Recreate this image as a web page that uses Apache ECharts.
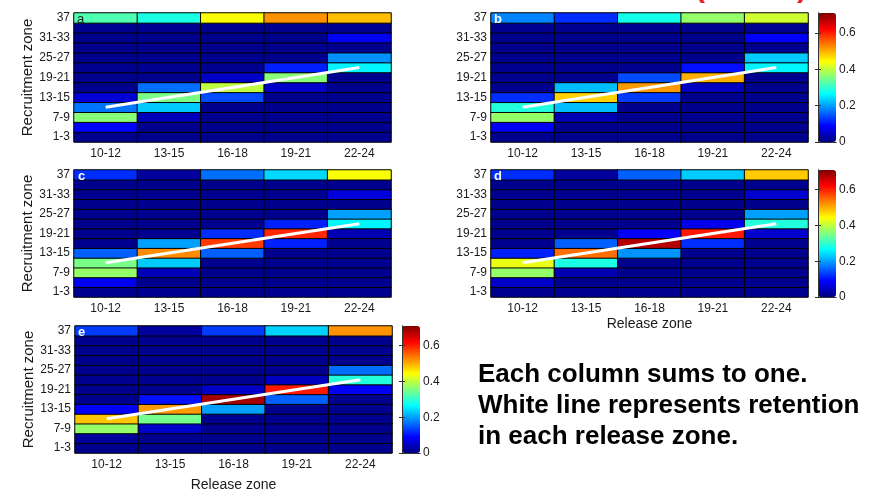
<!DOCTYPE html>
<html><head><meta charset="utf-8">
<script src="https://cdn.jsdelivr.net/npm/echarts/dist/echarts.min.js"></script>
<style>html,body{margin:0;padding:0;background:#fff}#c{width:878px;height:493px}</style>
</head><body><div id="c"></div>
<script>
// Categories
const releaseZones = ['10-12', '13-15', '16-18', '19-21', '22-24'];
const recruitZones = ['1-3', '4-6', '7-9', '10-12', '13-15', '16-18', '19-21', '22-24', '25-27', '28-30', '31-33', '34-36', '37'];
const colorMax = 0.71;
const colorbarInterval = 0.2;
const panelLetters = ['a', 'b', 'c', 'd', 'e'];
const noteLines = ['Each column sums to one.', 'White line represents retention', 'in each release zone.'];

// Values: one array per release zone, recruitment zones bottom (1-3) to top (37)
const panelA = [
  [0.01, 0.09, 0.36, 0.17, 0.06, 0.01, 0.01, 0.01, 0.01, 0.01, 0.01, 0.01, 0.32],
  [0.01, 0.01, 0.04, 0.23, 0.35, 0.165, 0.01, 0.01, 0.01, 0.01, 0.01, 0.01, 0.285],
  [0.01, 0.01, 0.01, 0.01, 0.14, 0.40, 0.05, 0.01, 0.01, 0.01, 0.01, 0.01, 0.44],
  [0.01, 0.01, 0.01, 0.01, 0.01, 0.05, 0.36, 0.11, 0.01, 0.01, 0.01, 0.01, 0.52],
  [0.01, 0.01, 0.01, 0.01, 0.01, 0.01, 0.01, 0.26, 0.19, 0.01, 0.08, 0.01, 0.49]
];
const panelB = [
  [0.01, 0.08, 0.37, 0.29, 0.12, 0.01, 0.01, 0.01, 0.01, 0.01, 0.01, 0.01, 0.18],
  [0.01, 0.01, 0.035, 0.22, 0.475, 0.22, 0.01, 0.01, 0.01, 0.01, 0.01, 0.01, 0.12],
  [0.01, 0.01, 0.01, 0.01, 0.13, 0.515, 0.14, 0.01, 0.01, 0.01, 0.01, 0.01, 0.28],
  [0.01, 0.01, 0.01, 0.01, 0.01, 0.045, 0.50, 0.10, 0.01, 0.01, 0.01, 0.01, 0.37],
  [0.01, 0.01, 0.01, 0.01, 0.01, 0.01, 0.01, 0.26, 0.23, 0.01, 0.085, 0.01, 0.41]
];
const panelC = [
  [0.01, 0.08, 0.37, 0.35, 0.155, 0.01, 0.01, 0.01, 0.01, 0.01, 0.01, 0.01, 0.12],
  [0.01, 0.01, 0.04, 0.23, 0.525, 0.20, 0.01, 0.01, 0.01, 0.01, 0.01, 0.01, 0.02],
  [0.01, 0.01, 0.01, 0.01, 0.155, 0.58, 0.12, 0.01, 0.01, 0.01, 0.01, 0.01, 0.165],
  [0.01, 0.01, 0.01, 0.01, 0.01, 0.11, 0.595, 0.11, 0.01, 0.01, 0.01, 0.01, 0.24],
  [0.01, 0.01, 0.01, 0.01, 0.01, 0.01, 0.035, 0.26, 0.20, 0.01, 0.065, 0.01, 0.44]
];
const panelD = [
  [0.01, 0.05, 0.37, 0.43, 0.11, 0.01, 0.01, 0.01, 0.01, 0.01, 0.01, 0.01, 0.12],
  [0.01, 0.01, 0.035, 0.285, 0.545, 0.155, 0.01, 0.01, 0.01, 0.01, 0.01, 0.01, 0.02],
  [0.01, 0.01, 0.01, 0.01, 0.19, 0.675, 0.085, 0.01, 0.01, 0.01, 0.01, 0.01, 0.155],
  [0.01, 0.01, 0.01, 0.01, 0.01, 0.12, 0.605, 0.075, 0.01, 0.01, 0.01, 0.01, 0.23],
  [0.01, 0.01, 0.01, 0.01, 0.01, 0.01, 0.055, 0.29, 0.20, 0.01, 0.055, 0.01, 0.48]
];
const panelE = [
  [0.01, 0.02, 0.37, 0.485, 0.085, 0.01, 0.01, 0.01, 0.01, 0.01, 0.01, 0.01, 0.13],
  [0.01, 0.01, 0.05, 0.345, 0.515, 0.10, 0.01, 0.01, 0.01, 0.01, 0.01, 0.01, 0.02],
  [0.01, 0.01, 0.01, 0.01, 0.20, 0.685, 0.05, 0.01, 0.01, 0.01, 0.01, 0.01, 0.13],
  [0.01, 0.01, 0.01, 0.01, 0.01, 0.155, 0.605, 0.045, 0.01, 0.01, 0.01, 0.01, 0.235],
  [0.01, 0.01, 0.01, 0.01, 0.01, 0.01, 0.08, 0.29, 0.165, 0.01, 0.01, 0.01, 0.52]
];

const panelData = [panelA, panelB, panelC, panelD, panelE];
const jet = ['#000080', '#0000ff', '#0080ff', '#00ffff', '#80ff80', '#ffff00', '#ff8000', '#ff0000', '#800000'];
const FONT = "'Liberation Sans', Arial, Helvetica, sans-serif";

// Layout (pixels)
const layout = [
  { grid: { left: 74, top: 13, width: 317, height: 129 }, yName: true, xName: 0, letter: { x: 77, y: 13, color: '#222', weight: 'normal' } },
  { grid: { left: 491, top: 13, width: 317, height: 129 }, yName: false, xName: 0, letter: { x: 494, y: 13, color: '#fff', weight: 'bold' } },
  { grid: { left: 74, top: 170, width: 317, height: 127 }, yName: true, xName: 0, letter: { x: 78, y: 170, color: '#fff', weight: 'bold' } },
  { grid: { left: 491, top: 170, width: 317, height: 127 }, yName: false, xName: 20, letter: { x: 494, y: 170, color: '#fff', weight: 'bold' } },
  { grid: { left: 75, top: 326, width: 317, height: 127 }, yName: true, xName: 25, letter: { x: 78, y: 326, color: '#fff', weight: 'bold' } }
];
const colorbars = [
  { left: 818, top: 13, width: 18, height: 129, series: [0, 1] },
  { left: 818, top: 170, width: 18, height: 127, series: [2, 3] },
  { left: 402, top: 326, width: 18, height: 127, series: [4] }
];

const grids = [], xAxes = [], yAxes = [], series = [], visualMaps = [], graphics = [];

layout.forEach((p, i) => {
  grids.push(p.grid);
  xAxes.push({
    type: 'category', gridIndex: i, data: releaseZones,
    axisLine: { show: false }, axisTick: { show: false },
    axisLabel: { interval: 0, fontSize: 12, color: '#1a1a1a', margin: 6, fontFamily: FONT },
    name: p.xName ? 'Release zone' : '', nameLocation: 'middle', nameGap: p.xName || 0,
    nameTextStyle: { fontSize: 14, color: '#1a1a1a', fontFamily: FONT },
    splitLine: { show: false }
  });
  yAxes.push({
    type: 'category', gridIndex: i, data: recruitZones,
    axisLine: { show: false }, axisTick: { show: false },
    axisLabel: { interval: 1, fontSize: 12, color: '#1a1a1a', margin: 4, fontFamily: FONT },
    name: p.yName ? 'Recruitment zone' : '', nameLocation: 'middle', nameGap: 36,
    nameTextStyle: { fontSize: 15, color: '#1a1a1a', fontFamily: FONT },
    splitLine: { show: false }
  });
});

panelData.forEach((cols, i) => {
  const d = [];
  cols.forEach((col, xi) => col.forEach((v, yi) => d.push([xi, yi, v])));
  series.push({
    type: 'heatmap', xAxisIndex: i, yAxisIndex: i, data: d,
    itemStyle: { borderColor: '#000', borderWidth: 1 },
    emphasis: { disabled: true }, silent: true
  });
});
panelData.forEach((cols, i) => {
  series.push({
    type: 'line', xAxisIndex: i, yAxisIndex: i,
    data: releaseZones.map(z => [z, z]),
    symbol: 'none', lineStyle: { color: '#fff', width: 3 }, silent: true, z: 5
  });
});

colorbars.forEach((cb, k) => {
  const gi = grids.length;
  grids.push({ left: cb.left, top: cb.top, width: cb.width, height: cb.height });
  visualMaps.push({
    type: 'continuous', min: 0, max: colorMax, seriesIndex: cb.series,
    inRange: { color: jet }, calculable: false, realtime: false, hoverLink: false,
    orient: 'vertical', left: cb.left, top: cb.top, itemWidth: cb.width, itemHeight: cb.height,
    padding: 0, text: null, z: 1
  });
  ['bottom', 'top'].forEach(pos => xAxes.push({
    type: 'value', gridIndex: gi, position: pos, min: 0, max: 1, z: 10,
    axisLine: { show: true, lineStyle: { color: '#333', width: 1 } },
    axisTick: { show: false }, axisLabel: { show: false }, splitLine: { show: false }
  }));
  ['right', 'left'].forEach(pos => yAxes.push({
    type: 'value', gridIndex: gi, position: pos, min: 0, max: colorMax, interval: colorbarInterval, z: 10,
    axisLine: { show: true, lineStyle: { color: '#333', width: 1 } },
    axisTick: { show: true, inside: true, length: 3, lineStyle: { color: '#333' } },
    axisLabel: pos === 'right' ? {
      show: true, showMaxLabel: false, fontSize: 12, color: '#1a1a1a', margin: 3, fontFamily: FONT,
      formatter: v => (v === 0 ? '0' : v.toFixed(1))
    } : { show: false },
    splitLine: { show: false }
  }));
});

layout.forEach((p, i) => {
  graphics.push({
    type: 'text', left: p.letter.x, top: p.letter.y, z: 20,
    style: { text: panelLetters[i], fill: p.letter.color, font: p.letter.weight + ' 13px ' + FONT }
  });
});
graphics.push({
  type: 'text', x: 478, y: 359, z: 20,
  style: { text: noteLines.join('\n'), fill: '#000', font: 'bold 26px ' + FONT, lineHeight: 31, verticalAlign: 'top' }
});
// partially visible red brackets at the top edge
graphics.push({ type: 'text', x: 695, y: -11, z: 20, style: { text: '(', fill: '#e8202a', font: 'bold 30px ' + FONT, verticalAlign: 'middle' } });
graphics.push({ type: 'text', x: 797, y: -11, z: 20, style: { text: ')', fill: '#e8202a', font: 'bold 30px ' + FONT, verticalAlign: 'middle' } });

const chart = echarts.init(document.getElementById('c'), null, { renderer: 'canvas' });
chart.setOption({
  animation: false,
  backgroundColor: '#fff',
  grid: grids, xAxis: xAxes, yAxis: yAxes,
  visualMap: visualMaps, series: series, graphic: graphics
});
</script></body></html>
